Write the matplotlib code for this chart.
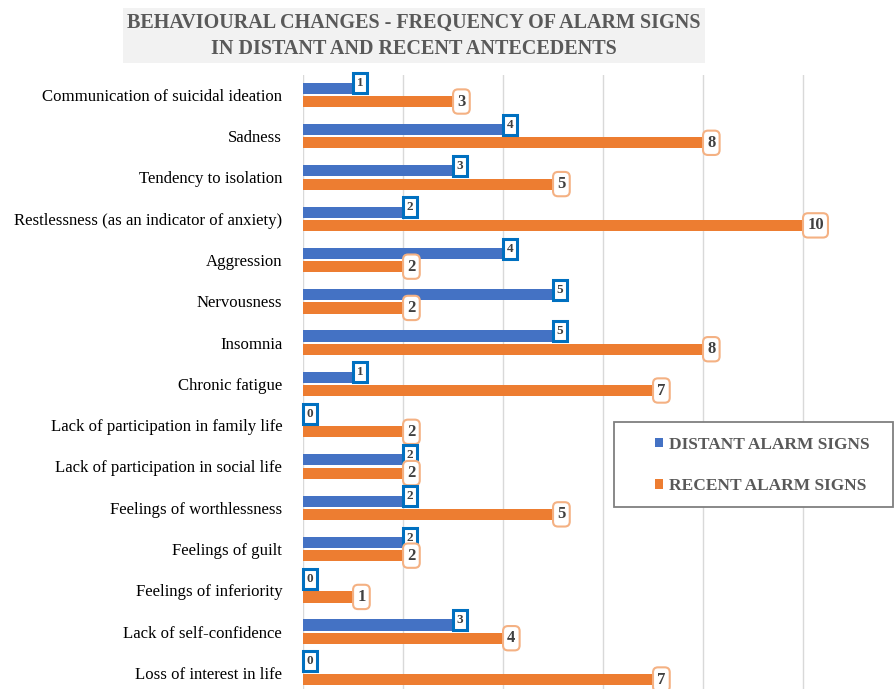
import numpy as np
import matplotlib
import matplotlib.pyplot as plt
from matplotlib.patches import Rectangle

matplotlib.rcParams['font.family'] = ['Liberation Serif', 'DejaVu Serif']

# data
categories = ['Communication of suicidal ideation', 'Sadness', 'Tendency to isolation',
              'Restlessness (as an indicator of anxiety)', 'Aggression', 'Nervousness',
              'Insomnia', 'Chronic fatigue', 'Lack of participation in family life',
              'Lack of participation in social life', 'Feelings of worthlessness',
              'Feelings of guilt', 'Feelings of inferiority', 'Lack of self-confidence',
              'Loss of interest in life']
distant = [1, 4, 3, 2, 4, 5, 5, 1, 0, 2, 2, 2, 0, 3, 0]
recent = [3, 8, 5, 10, 2, 2, 8, 7, 2, 2, 5, 2, 1, 4, 7]

blue = '#4472C4'
orange = '#ED7D31'

fig = plt.figure(figsize=(8.94, 6.89), dpi=100)
ax = fig.add_axes([0.339, 0.0, 0.661, 0.891])

y = np.arange(len(categories))
h = 0.27
off = 0.16
ax.barh(y - off, distant, height=h, color=blue, label='DISTANT ALARM SIGNS', zorder=2)
ax.barh(y + off, recent, height=h, color=orange, label='RECENT ALARM SIGNS', zorder=2)

# value labels
for i in range(len(categories)):
    ax.annotate(str(distant[i]), (distant[i], y[i] - off), xytext=(2.5, 3.5),
                textcoords='offset points', ha='left', va='center',
                fontsize=9.5, fontweight='bold', color='#404040', zorder=5,
                bbox=dict(boxstyle='square,pad=0.3', fc='white', ec='#0070C0', lw=2.2))
    ax.annotate(str(recent[i]), (recent[i], y[i] + off), xytext=(3, 0),
                textcoords='offset points', ha='left', va='center',
                fontsize=12, fontweight='bold', color='#404040', zorder=5,
                bbox=dict(boxstyle='round,pad=0.25,rounding_size=0.3', fc='white', ec='#F4B183', lw=1.5))

ax.set_xlim(0, 11.82)
ax.set_ylim(14.39, -0.48)
ax.set_xticks(np.arange(0, 12, 2))
ax.set_xticklabels([])
ax.tick_params(axis='both', length=0)
ax.set_yticks(y)
ax.set_yticklabels(categories, fontsize=12.1)
ax.tick_params(axis='y', pad=15)
ax.grid(axis='x', color='#D9D9D9', lw=1, zorder=0)
for s in ax.spines.values():
    s.set_visible(False)

# legend with a separate frame box
fig.patches.append(Rectangle((614 / 894, 1 - 507 / 689), 279 / 894, 85 / 689,
                             transform=fig.transFigure, fc='white', ec='#7F7F7F', lw=1.3, zorder=10))
leg = fig.legend(loc='upper left', bbox_to_anchor=(646 / 894, 1 - 428 / 689), frameon=False,
                 handlelength=0.5, handleheight=0.5, handletextpad=0.35, labelspacing=1.45,
                 borderpad=0, prop={'weight': 'bold', 'size': 12.5}, labelcolor='#595959')
leg.set_zorder(11)

fig.text(0.463, 0.948, 'BEHAVIOURAL CHANGES - FREQUENCY OF ALARM SIGNS\nIN DISTANT AND RECENT ANTECEDENTS',
         ha='center', va='center', fontsize=14.5, fontweight='bold', color='#595959', linespacing=1.45,
         bbox=dict(boxstyle='square,pad=0.2', fc='#F2F2F2', ec='none'))

fig.savefig('out.png', dpi=100)
